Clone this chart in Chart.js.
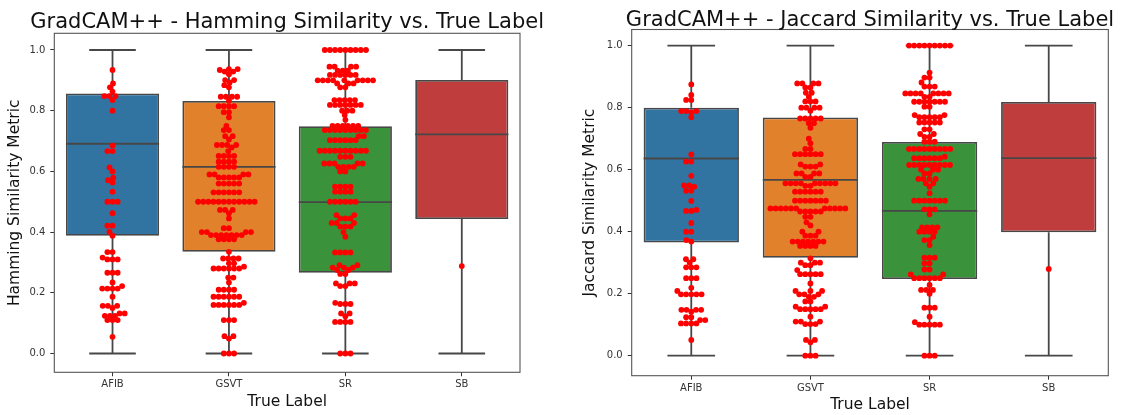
<!DOCTYPE html>
<html>
<head>
<meta charset="utf-8">
<script src="https://cdn.jsdelivr.net/npm/chart.js@4.4.1/dist/chart.umd.min.js"></script>
<style>
  html, body { margin: 0; padding: 0; background: #fff; overflow: hidden; }
  canvas.panel { position: absolute; top: 0; }
</style>
</head>
<body>
<canvas id="hamming" class="panel" width="565" height="415" style="left:0px"></canvas>
<canvas id="jaccard" class="panel" width="565" height="415" style="left:565px"></canvas>
<script>
// ---- data ----
const categories = ['AFIB', 'GSVT', 'SR', 'SB'];
const yTicks = [0, 0.2, 0.4, 0.6, 0.8, 1.0];
const boxColors = ['#3274a1', '#e1812c', '#3a923a', '#c03d3e'];

// Hamming similarity: box summaries per true label
const hammingLow = [0, 0, 0, 0];
const hammingQ1 = [0.388, 0.335, 0.266, 0.443];
const hammingMedian = [0.691, 0.615, 0.499, 0.722];
const hammingQ3 = [0.857, 0.832, 0.749, 0.901];
const hammingHigh = [1, 1, 1, 1];

// Jaccard similarity: box summaries per true label
const jaccardLow = [0, 0, 0, 0];
const jaccardQ1 = [0.365, 0.316, 0.247, 0.398];
const jaccardMedian = [0.636, 0.567, 0.467, 0.637];
const jaccardQ3 = [0.800, 0.768, 0.689, 0.818];
const jaccardHigh = [1, 1, 1, 1];

// Hamming similarity: individual scores
const hammingAFIB = [0.934, 0.89, 0.877, 0.863, 0.848, 0.848, 0.848, 0.835, 0.80, 0.685, 0.667, 0.667,
  0.613, 0.60, 0.579, 0.571, 0.563, 0.533, 0.5, 0.5, 0.5, 0.462, 0.421, 0.421, 0.401, 0.388, 0.334, 0.334,
  0.316, 0.31, 0.31, 0.31, 0.266, 0.266, 0.266, 0.234, 0.222, 0.214, 0.214, 0.214, 0.214, 0.187,
  0.157, 0.157, 0.157, 0.15, 0.132, 0.132, 0.124, 0.124, 0.124, 0.11, 0.11, 0.11, 0.055];
const hammingGSVT = [0.937, 0.937, 0.934, 0.929, 0.929, 0.92, 0.901, 0.901, 0.893, 0.884, 0.877,
  0.846, 0.846, 0.846, 0.846, 0.833, 0.815, 0.815, 0.815, 0.815, 0.795, 0.795, 0.778, 0.75, 0.736, 0.736,
  0.716, 0.716, 0.705, 0.687, 0.687, 0.687, 0.687, 0.679, 0.667, 0.651, 0.651, 0.651, 0.651,
  0.632, 0.632, 0.632, 0.632, 0.615, 0.615, 0.615, 0.615, 0.59, 0.59, 0.59, 0.59, 0.58, 0.58, 0.58, 0.58, 0.58,
  0.56, 0.56, 0.56, 0.56, 0.56, 0.531, 0.531, 0.531, 0.531, 0.531, 0.531,
  0.5, 0.5, 0.5, 0.5, 0.5, 0.5, 0.5, 0.5, 0.5, 0.5, 0.5, 0.5,
  0.473, 0.473, 0.473, 0.462, 0.445, 0.413, 0.413, 0.40, 0.40, 0.40, 0.40,
  0.39, 0.39, 0.39, 0.39, 0.39, 0.39, 0.39, 0.376, 0.376, 0.376, 0.376, 0.335,
  0.313, 0.313, 0.313, 0.313, 0.297, 0.297, 0.286, 0.28, 0.28, 0.28, 0.28, 0.28, 0.28,
  0.25, 0.25, 0.234, 0.21, 0.21, 0.21, 0.21, 0.187, 0.187, 0.187, 0.187, 0.187, 0.187,
  0.167, 0.16, 0.16, 0.16, 0.16, 0.16, 0.16, 0.11, 0.11, 0.11, 0.057, 0.057, 0.049, 0, 0, 0];
const hammingSR = [1, 1, 1, 1, 1, 1, 1, 1, 1, 0.945, 0.945, 0.945, 0.945, 0.932, 0.932, 0.932,
  0.918, 0.918, 0.918, 0.918, 0.918, 0.918, 0.90, 0.90, 0.90, 0.90, 0.90, 0.90, 0.90, 0.90, 0.90,
  0.89, 0.89, 0.89, 0.877, 0.877, 0.835, 0.835, 0.835, 0.835, 0.835,
  0.819, 0.819, 0.819, 0.819, 0.819, 0.819, 0.819, 0.80, 0.80, 0.80, 0.786, 0.77,
  0.75, 0.75, 0.75, 0.75, 0.75, 0.75, 0.736, 0.736, 0.736, 0.736, 0.736, 0.736, 0.736, 0.736, 0.736,
  0.716, 0.716, 0.703, 0.703, 0.703, 0.703, 0.703, 0.703,
  0.668, 0.668, 0.668, 0.668, 0.668, 0.668, 0.668, 0.668, 0.668, 0.668, 0.648, 0.648, 0.648,
  0.626, 0.626, 0.626, 0.626, 0.626, 0.615, 0.615, 0.615, 0.615, 0.60, 0.60,
  0.55, 0.55, 0.55, 0.55, 0.533, 0.533, 0.533, 0.533, 0.5, 0.5, 0.5, 0.5, 0.5, 0.5,
  0.456, 0.456, 0.445, 0.445, 0.445, 0.43, 0.43, 0.43, 0.418, 0.418, 0.418, 0.40, 0.385,
  0.333, 0.333, 0.333, 0.333, 0.291, 0.291, 0.283, 0.283, 0.283, 0.275, 0.275, 0.262, 0.262,
  0.231, 0.231, 0.231, 0.222, 0.222, 0.167, 0.163, 0.163, 0.163, 0.132, 0.132, 0.123,
  0.104, 0.104, 0.104, 0.104, 0, 0, 0];
const hammingSB = [0.288];

// Jaccard similarity: individual scores
const jaccardAFIB = [0.875, 0.841, 0.825, 0.825, 0.789, 0.789, 0.789, 0.785, 0.769, 0.649, 0.626, 0.626,
  0.58, 0.549, 0.549, 0.545, 0.532, 0.532, 0.499, 0.47, 0.467, 0.467, 0.428, 0.40, 0.40, 0.373, 0.368,
  0.311, 0.311, 0.30, 0.285, 0.285, 0.285, 0.25, 0.25, 0.25, 0.219, 0.209,
  0.198, 0.198, 0.198, 0.198, 0.198, 0.148, 0.148, 0.148, 0.148, 0.142, 0.124, 0.124, 0.115, 0.115,
  0.104, 0.104, 0.104, 0.104, 0.051];
const jaccardGSVT = [0.878, 0.878, 0.878, 0.878, 0.865, 0.865, 0.848, 0.848, 0.835, 0.82, 0.82, 0.82,
  0.80, 0.80, 0.80, 0.80, 0.79, 0.765, 0.765, 0.765, 0.765, 0.765, 0.75, 0.75, 0.735, 0.70, 0.685,
  0.667, 0.667, 0.65, 0.65, 0.65, 0.65, 0.65, 0.65, 0.617, 0.617, 0.61, 0.61, 0.61,
  0.588, 0.588, 0.588, 0.588, 0.577, 0.577, 0.556, 0.556, 0.556, 0.556, 0.556, 0.556, 0.556, 0.556, 0.556,
  0.548, 0.548, 0.529, 0.529, 0.529, 0.529, 0.529, 0.529, 0.5, 0.5, 0.5, 0.5, 0.5, 0.5, 0.5,
  0.475, 0.475, 0.475, 0.475, 0.475, 0.475, 0.475, 0.475, 0.475, 0.475, 0.475,
  0.465, 0.465, 0.465, 0.465, 0.465, 0.448, 0.448, 0.43, 0.42, 0.40, 0.40, 0.387, 0.387, 0.387,
  0.368, 0.368, 0.368, 0.368, 0.368, 0.368, 0.368, 0.354, 0.354, 0.354, 0.354,
  0.314, 0.30, 0.30, 0.30, 0.292, 0.292, 0.276, 0.263, 0.263, 0.263, 0.263, 0.263, 0.233,
  0.209, 0.209, 0.209, 0.198, 0.198, 0.198, 0.19, 0.19, 0.175, 0.175, 0.158, 0.158,
  0.15, 0.15, 0.15, 0.15, 0.15, 0.126, 0.11, 0.11, 0.11, 0.102, 0.102, 0.102, 0.051, 0.051, 0.043, 0, 0, 0];
const jaccardSR = [1, 1, 1, 1, 1, 1, 1, 1, 1, 0.913, 0.897, 0.897, 0.881, 0.868, 0.868, 0.868,
  0.846, 0.846, 0.846, 0.846, 0.846, 0.846, 0.846, 0.846, 0.835, 0.835,
  0.819, 0.819, 0.819, 0.819, 0.819, 0.819, 0.819, 0.803, 0.803, 0.776, 0.776,
  0.769, 0.769, 0.769, 0.769, 0.769, 0.752, 0.752, 0.752, 0.752, 0.752, 0.73, 0.73, 0.715, 0.715,
  0.706, 0.706, 0.69, 0.69, 0.69, 0.667, 0.667, 0.667, 0.667, 0.667, 0.667, 0.667, 0.667, 0.667,
  0.642, 0.637, 0.637, 0.637, 0.637, 0.637, 0.637, 0.615, 0.615, 0.615, 0.615, 0.615, 0.615, 0.615, 0.615, 0.615,
  0.60, 0.60, 0.60, 0.588, 0.588, 0.57, 0.57, 0.57, 0.57, 0.556, 0.556, 0.545, 0.524,
  0.5, 0.5, 0.5, 0.5, 0.5, 0.5, 0.5, 0.472, 0.472, 0.472, 0.456,
  0.414, 0.414, 0.414, 0.414, 0.40, 0.40, 0.40, 0.40, 0.384, 0.373, 0.373, 0.357,
  0.316, 0.316, 0.316, 0.298, 0.298, 0.278, 0.278, 0.262, 0.262, 0.25, 0.25, 0.25, 0.25, 0.25, 0.25,
  0.228, 0.212, 0.212, 0.212, 0.2, 0.155, 0.155, 0.155, 0.126, 0.108, 0.1, 0.1, 0.1, 0.1, 0.1, 0, 0, 0];
const jaccardSB = [0.28];

// ---- styling ----
const FONT = "'DejaVu Sans', sans-serif";
const LINE_GRAY = '#474747';
const DOT_DIAMETER = 4.9;   // spacing used when packing the swarm, in px
const DOT_RADIUS = 2.9;

// Beeswarm packing in pixel space: each value keeps its height, and is moved
// sideways to the closest free spot next to points already placed.
function beeswarm(ys, d) {
  const order = ys.map((_, i) => i).sort((a, b) => ys[a] - ys[b]);
  const placed = [];
  const out = new Array(ys.length).fill(0);
  for (const i of order) {
    const y = ys[i];
    const neighbors = [];
    for (let k = placed.length - 1; k >= 0; k--) {
      if (y - placed[k].y < d) neighbors.unshift(placed[k]); else break;
    }
    const cands = [0];
    let leftFirst = true;
    for (const n of neighbors) {
      const dy = y - n.y;
      const dx = Math.sqrt(Math.max(d * d - dy * dy, 0)) * 1.05;
      if (leftFirst) cands.push(n.x - dx, n.x + dx); else cands.push(n.x + dx, n.x - dx);
      leftFirst = !leftFirst;
    }
    const sorted = cands.map((c, k) => ({ c, k }))
      .sort((a, b) => (Math.abs(a.c) - Math.abs(b.c)) || (a.k - b.k));
    let chosen = 0;
    for (const { c } of sorted) {
      if (neighbors.every(n => (n.x - c) ** 2 + (n.y - y) ** 2 >= d * d - 1e-6)) { chosen = c; break; }
    }
    placed.push({ x: chosen, y });
    out[i] = chosen;
  }
  return out;
}

// Whiskers, caps and median drawn on top of the box bars
const boxWhiskers = {
  id: 'boxWhiskers',
  afterDatasetDraw(chart, args) {
    if (args.meta.type !== 'bar') return;
    const s = chart.data.datasets[args.index].summary;
    const y = chart.scales.y;
    const ctx = chart.ctx;
    ctx.save();
    ctx.strokeStyle = LINE_GRAY;
    ctx.lineWidth = 1.8;
    args.meta.data.forEach((bar, i) => {
      const { x, width } = bar.getProps(['x', 'width'], true);
      const half = width / 2, cap = width / 4;
      const pLow = y.getPixelForValue(s.low[i]);
      const pQ1 = y.getPixelForValue(s.q1[i]);
      const pMed = y.getPixelForValue(s.median[i]);
      const pQ3 = y.getPixelForValue(s.q3[i]);
      const pHigh = y.getPixelForValue(s.high[i]);
      ctx.beginPath();
      ctx.moveTo(x, pQ1); ctx.lineTo(x, pLow);
      ctx.moveTo(x, pQ3); ctx.lineTo(x, pHigh);
      ctx.moveTo(x - cap, pLow); ctx.lineTo(x + cap, pLow);
      ctx.moveTo(x - cap, pHigh); ctx.lineTo(x + cap, pHigh);
      ctx.moveTo(x - half, pMed); ctx.lineTo(x + half, pMed);
      ctx.stroke();
    });
    ctx.restore();
  }
};

// Frame round the plotting area
const frame = {
  id: 'frame',
  afterDatasetsDraw(chart) {
    const { ctx, chartArea: a } = chart;
    ctx.save();
    ctx.strokeStyle = '#555';
    ctx.lineWidth = 1.1;
    ctx.strokeRect(a.left, a.top, a.right - a.left, a.bottom - a.top);
    ctx.restore();
  }
};

// Heading centred over the plotting area
const panelTitle = {
  id: 'panelTitle',
  afterDraw(chart, args, opts) {
    const { ctx, chartArea: a } = chart;
    ctx.save();
    ctx.font = opts.size + 'px ' + FONT;
    ctx.fillStyle = '#111';
    ctx.textAlign = 'center';
    ctx.textBaseline = 'alphabetic';
    ctx.fillText(opts.text, (a.left + a.right) / 2, opts.baseline);
    ctx.restore();
  }
};

function makePanel(canvasId, cfg) {
  const summary = { low: cfg.low, q1: cfg.q1, median: cfg.median, q3: cfg.q3, high: cfg.high };
  const boxes = categories.map((c, i) => ({ x: i, y: [cfg.q1[i], cfg.q3[i]] }));
  const dots = [];
  cfg.scores.forEach((vals, i) => vals.forEach(v => dots.push({ x: i, y: v })));

  const chart = new Chart(document.getElementById(canvasId), {
    type: 'bar',
    data: {
      datasets: [
        {
          type: 'bar',
          data: boxes,
          summary,
          order: 1,
          backgroundColor: boxColors,
          borderColor: LINE_GRAY,
          borderWidth: 1.8,
          borderSkipped: false,
          barPercentage: 1,
          categoryPercentage: 0.8
        },
        {
          type: 'scatter',
          data: dots,
          order: 0,
          pointRadius: DOT_RADIUS,
          pointBorderWidth: 0,
          pointBackgroundColor: '#ff0000',
          pointHoverRadius: DOT_RADIUS
        }
      ]
    },
    options: {
      responsive: false,
      animation: false,
      events: [],
      layout: { padding: cfg.padding },
      plugins: {
        legend: { display: false },
        tooltip: { enabled: false },
        title: { display: false },
        panelTitle: { text: cfg.title, size: 21, baseline: cfg.titleBaseline }
      },
      scales: {
        x: {
          type: 'linear',
          min: -0.5,
          max: 3.5,
          offset: false,
          afterBuildTicks: (axis) => { axis.ticks = categories.map((_, i) => ({ value: i })); },
          afterFit: (axis) => { axis.height = cfg.xAxisHeight; },
          ticks: {
            callback: (v) => categories[v],
            font: { family: FONT, size: 10 },
            color: '#333',
            padding: 2.5,
            autoSkip: false,
            maxRotation: 0
          },
          grid: { display: true, offset: false, drawOnChartArea: false, drawTicks: true, tickLength: 4, tickColor: '#333', tickWidth: 1 },
          border: { display: false },
          title: {
            display: true,
            text: 'True Label',
            font: { family: FONT, size: 15.5 },
            color: '#111',
            padding: { top: 0, bottom: cfg.xTitlePad }
          }
        },
        y: {
          type: 'linear',
          min: cfg.yMin,
          max: cfg.yMax,
          afterBuildTicks: (axis) => { axis.ticks = yTicks.map(v => ({ value: v })); },
          afterFit: (axis) => { axis.width = cfg.yAxisWidth; },
          ticks: {
            callback: (v) => v.toFixed(1),
            font: { family: FONT, size: 10 },
            color: '#333',
            padding: 5
          },
          grid: { display: true, drawOnChartArea: false, drawTicks: true, tickLength: 4, tickColor: '#333', tickWidth: 1 },
          border: { display: false },
          title: {
            display: true,
            text: cfg.yLabel,
            font: { family: FONT, size: 15.5 },
            color: '#111',
            padding: { top: cfg.yTitlePad, bottom: 0 }
          }
        }
      }
    },
    plugins: [boxWhiskers, frame, panelTitle]
  });

  // spread the dots sideways now that the scales are known
  const xs = chart.scales.x, ys = chart.scales.y;
  const pxPerUnit = Math.abs(ys.getPixelForValue(1) - ys.getPixelForValue(0));
  const pxPerCat = Math.abs(xs.getPixelForValue(1) - xs.getPixelForValue(0));
  const packed = [];
  cfg.scores.forEach((vals, i) => {
    const off = beeswarm(vals.map(v => v * pxPerUnit), DOT_DIAMETER);
    vals.forEach((v, k) => packed.push({ x: i + off[k] / pxPerCat, y: v }));
  });
  chart.data.datasets[1].data = packed;
  chart.update('none');
  return chart;
}

makePanel('hamming', {
  title: 'GradCAM++ - Hamming Similarity vs. True Label',
  titleBaseline: 28,
  yLabel: 'Hamming Similarity Metric',
  low: hammingLow, q1: hammingQ1, median: hammingMedian, q3: hammingQ3, high: hammingHigh,
  scores: [hammingAFIB, hammingGSVT, hammingSR, hammingSB],
  yMin: -0.062, yMax: 1.055,
  padding: { top: 33.3, right: 45, bottom: 0, left: 0 },
  yAxisWidth: 54.3,
  xAxisHeight: 42.7,
  yTitlePad: 5.8,
  xTitlePad: 4
});

makePanel('jaccard', {
  title: 'GradCAM++ - Jaccard Similarity vs. True Label',
  titleBaseline: 26,
  yLabel: 'Jaccard Similarity Metric',
  low: jaccardLow, q1: jaccardQ1, median: jaccardMedian, q3: jaccardQ3, high: jaccardHigh,
  scores: [jaccardAFIB, jaccardGSVT, jaccardSR, jaccardSB],
  yMin: -0.0645, yMax: 1.052,
  padding: { top: 29.5, right: 21.7, bottom: 0, left: 0 },
  yAxisWidth: 66.7,
  xAxisHeight: 39.3,
  yTitlePad: 16,
  xTitlePad: 1
});
</script>
</body>
</html>
